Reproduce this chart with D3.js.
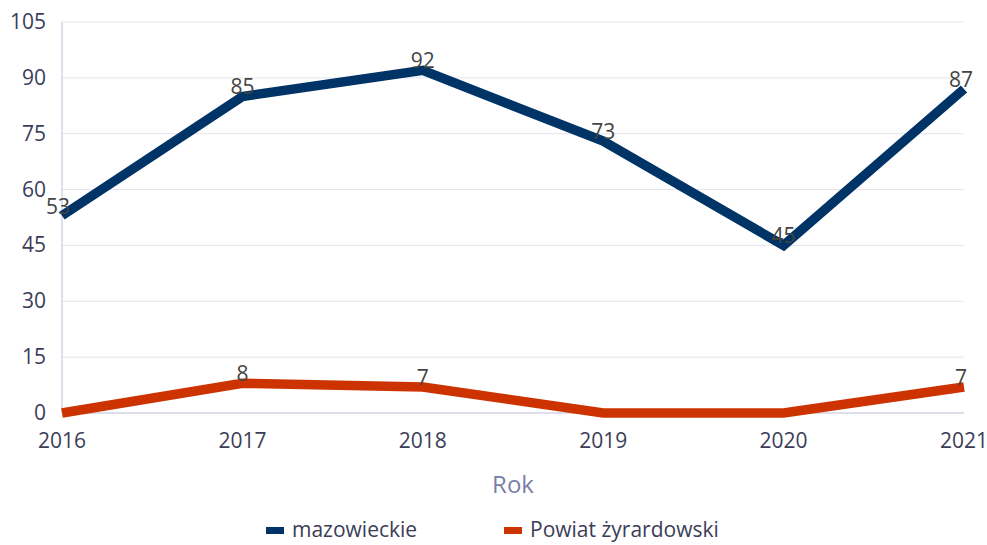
<!DOCTYPE html>
<html>
<head>
<meta charset="utf-8">
<script src="https://cdn.jsdelivr.net/npm/d3@7"></script>
<style>
  body { margin: 0; background: #fff; }
  text { font-family: "Open Sans", "Noto Sans", sans-serif; }
</style>
</head>
<body>
<svg width="987" height="545"></svg>
<script>
const years = [2016, 2017, 2018, 2019, 2020, 2021];
const mazowieckie = [53, 85, 92, 73, 45, 87];
const zyrardowski = [0, 8, 7, 0, 0, 7];
const yTicks = [0, 15, 30, 45, 60, 75, 90, 105];
const seriesNames = ['mazowieckie', 'Powiat żyrardowski'];
const seriesColors = ['#003366', '#cc3300'];

const width = 987;
const height = 545;
const margin = {left: 62, right: 23, top: 22, bottom: 132};

const svg = d3.select('svg');

const x = d3.scalePoint()
  .domain(years)
  .range([margin.left, width - margin.right]);

const y = d3.scaleLinear()
  .domain([0, 105])
  .range([height - margin.bottom, margin.top]);

// grid
svg.append('g')
  .selectAll('line')
  .data(yTicks.filter(d => d > 0))
  .enter()
  .append('line')
  .attr('x1', margin.left)
  .attr('x2', width - margin.right)
  .attr('y1', d => y(d))
  .attr('y2', d => y(d))
  .style('stroke', '#e4e4ee')
  .style('stroke-width', 1);

// axis lines
svg.append('line')
  .attr('x1', margin.left).attr('x2', margin.left)
  .attr('y1', margin.top).attr('y2', y(0))
  .style('stroke', '#bcbfd6');
svg.append('line')
  .attr('x1', margin.left).attr('x2', width - margin.right)
  .attr('y1', y(0)).attr('y2', y(0))
  .style('stroke', '#bcbfd6');

// y tick labels
svg.append('g')
  .selectAll('text')
  .data(yTicks)
  .enter()
  .append('text')
  .attr('x', 46)
  .attr('y', d => y(d) + 7)
  .attr('text-anchor', 'end')
  .style('font-size', '21px')
  .style('fill', '#3b3d58')
  .text(d => d);

// x tick labels
svg.append('g')
  .selectAll('text')
  .data(years)
  .enter()
  .append('text')
  .attr('x', d => x(d))
  .attr('y', 448)
  .attr('text-anchor', 'middle')
  .style('font-size', '21px')
  .style('fill', '#3b3d58')
  .text(d => d);

// axis title
svg.append('text')
  .attr('x', (margin.left + width - margin.right) / 2)
  .attr('y', 493)
  .attr('text-anchor', 'middle')
  .style('font-size', '24px')
  .style('fill', '#7a7eaa')
  .text('Rok');

const line = d3.line()
  .x((d, i) => x(years[i]))
  .y(d => y(d));

const series = [mazowieckie, zyrardowski];

series.forEach((values, s) => {
  svg.append('path')
    .datum(values)
    .attr('d', line)
    .style('fill', 'none')
    .style('stroke', seriesColors[s])
    .style('stroke-width', 9.5)
    .style('stroke-linejoin', 'miter');
});

// value labels
series.forEach((values, s) => {
  svg.append('g')
    .selectAll('text')
    .data(values.map((v, i) => ({v, year: years[i], i})).filter(d => d.v > 0))
    .enter()
    .append('text')
    .attr('x', d => {
      let px = x(d.year);
      if (d.i === 0) px -= 4;
      if (d.i === years.length - 1) px -= 3;
      return px;
    })
    .attr('y', d => y(d.v) - 2)
    .attr('text-anchor', 'middle')
    .style('font-size', '21px')
    .style('fill', '#444444')
    .text(d => d.v);
});

// legend
const legendX = [266, 504];
const legend = svg.append('g');
seriesNames.forEach((name, i) => {
  legend.append('rect')
    .attr('x', legendX[i])
    .attr('y', 527)
    .attr('width', 18)
    .attr('height', 7)
    .style('fill', seriesColors[i]);
  legend.append('text')
    .attr('x', legendX[i] + 26)
    .attr('y', 537)
    .style('font-size', '21px')
    .style('fill', '#3b3d58')
    .text(name);
});
</script>
</body>
</html>
